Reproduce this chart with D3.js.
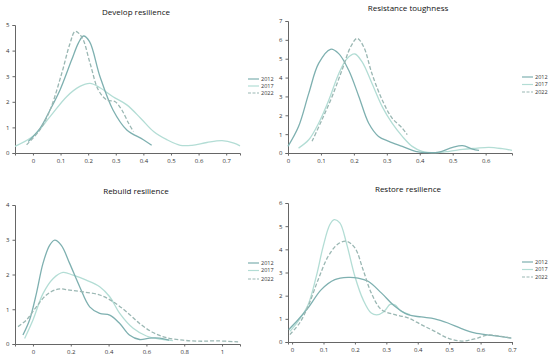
<!DOCTYPE html>
<html>
<head>
<meta charset="utf-8">
<script src="https://cdn.jsdelivr.net/npm/d3@7"></script>
<style>
  body { margin: 0; background: #fff; }
  svg { display: block; font-family: "Open Sans", "Noto Sans", sans-serif; }
</style>
</head>
<body>
<script>
// series years and colours
var years = ["2012", "2017", "2022"];
var colors = ["#7eb0b0", "#b3ddd5", "#9ab7b3"];
var dashes = [null, null, "4,2"];

var titles = ["Develop resilience", "Resistance toughness", "Rebuild resilience", "Restore resilience"];

// density values, [x, density]
var develop2012 = [[-0.017,0.45],[0.025,0.95],[0.062,1.68],[0.098,2.46],[0.14,3.63],[0.165,4.3],[0.183,4.57],[0.205,4.35],[0.243,2.98],[0.29,1.68],[0.34,0.9],[0.40,0.52],[0.43,0.3]];
var develop2017 = [[-0.065,0.26],[0,0.65],[0.062,1.42],[0.122,2.2],[0.17,2.6],[0.207,2.72],[0.243,2.55],[0.29,2.2],[0.34,1.88],[0.39,1.36],[0.437,0.84],[0.485,0.52],[0.534,0.3],[0.576,0.3],[0.63,0.41],[0.685,0.48],[0.728,0.39],[0.75,0.28]];
var develop2022 = [[-0.023,0.32],[0.025,0.9],[0.062,1.68],[0.104,3.1],[0.134,4.27],[0.153,4.75],[0.177,4.53],[0.207,3.5],[0.237,2.46],[0.268,2.07],[0.298,2.0],[0.322,1.68],[0.346,1.17],[0.364,0.84]];

var resist2012 = [[0,0.35],[0.032,1.4],[0.063,3.16],[0.093,4.75],[0.129,5.5],[0.154,5.27],[0.184,4.4],[0.215,3.0],[0.245,1.58],[0.275,0.88],[0.306,0.62],[0.347,0.35],[0.387,0.09],[0.428,0.02],[0.458,0.05],[0.5,0.3],[0.53,0.39],[0.56,0.21],[0.58,0.14]];
var resist2017 = [[0.032,0.26],[0.063,0.7],[0.093,1.58],[0.124,2.81],[0.154,4.2],[0.179,5.0],[0.203,5.25],[0.225,4.83],[0.255,3.69],[0.286,2.46],[0.316,1.58],[0.347,0.88],[0.377,0.35],[0.407,0.09],[0.448,0.02],[0.49,0.09],[0.53,0.19],[0.57,0.25],[0.61,0.3],[0.65,0.23],[0.68,0.14]];
var resist2022 = [[0.073,0.62],[0.103,1.76],[0.134,3.0],[0.164,4.4],[0.19,5.62],[0.21,6.08],[0.23,5.62],[0.255,4.2],[0.286,2.81],[0.316,1.85],[0.347,1.32],[0.362,0.97]];

var rebuild2012 = [[-0.053,0.26],[-0.018,0.69],[0.018,1.45],[0.053,2.32],[0.088,2.84],[0.115,2.99],[0.15,2.84],[0.194,2.32],[0.247,1.65],[0.3,1.07],[0.353,0.88],[0.406,0.83],[0.459,0.59],[0.51,0.26],[0.564,0.13],[0.617,0.17],[0.67,0.17],[0.72,0.11]];
var rebuild2017 = [[-0.044,0.16],[0,0.69],[0.053,1.45],[0.106,1.88],[0.159,2.06],[0.212,1.98],[0.282,1.84],[0.353,1.65],[0.406,1.36],[0.459,0.88],[0.53,0.45],[0.6,0.23],[0.67,0.14],[0.74,0.1]];
var rebuild2022 = [[-0.079,0.5],[-0.035,0.69],[0.018,1.07],[0.071,1.41],[0.132,1.58],[0.194,1.55],[0.265,1.5],[0.353,1.41],[0.423,1.22],[0.494,0.93],[0.564,0.59],[0.635,0.33],[0.706,0.18],[0.794,0.11],[0.882,0.08],[0.97,0.09],[1.085,0.06]];

var restore2012 = [[-0.011,0.53],[0.019,0.96],[0.051,1.47],[0.093,2.26],[0.136,2.69],[0.178,2.79],[0.21,2.76],[0.242,2.62],[0.284,2.12],[0.327,1.54],[0.369,1.18],[0.411,1.08],[0.454,1.0],[0.496,0.82],[0.539,0.58],[0.581,0.39],[0.634,0.29],[0.698,0.17]];
var restore2017 = [[-0.007,0.46],[0.019,0.89],[0.051,1.61],[0.077,2.83],[0.099,4.13],[0.12,5.06],[0.134,5.28],[0.152,5.14],[0.173,4.27],[0.2,2.83],[0.226,1.83],[0.252,1.25],[0.274,1.18],[0.295,1.35],[0.312,1.62],[0.327,1.6],[0.348,1.32],[0.375,1.18]];
var restore2022 = [[-0.007,0.32],[0.024,0.82],[0.051,1.54],[0.083,2.69],[0.115,3.7],[0.146,4.23],[0.173,4.35],[0.2,4.06],[0.226,3.12],[0.252,2.12],[0.284,1.4],[0.327,1.18],[0.369,1.04],[0.411,0.75],[0.454,0.46],[0.496,0.17],[0.539,0.04],[0.581,0.13],[0.623,0.3],[0.666,0.24],[0.698,0.17]];

// tick labels
var developTicksX = [0, 0.1, 0.2, 0.3, 0.4, 0.5, 0.6, 0.7];
var developTicksY = [0, 1, 2, 3, 4, 5];
var resistTicksX = [0, 0.1, 0.2, 0.3, 0.4, 0.5, 0.6];
var resistTicksY = [0, 1, 2, 3, 4, 5, 6, 7];
var rebuildTicksX = [0, 0.2, 0.4, 0.6, 0.8, 1];
var rebuildTicksY = [0, 1, 2, 3, 4];
var restoreTicksX = [0, 0.1, 0.2, 0.3, 0.4, 0.5, 0.6, 0.7];
var restoreTicksY = [0, 1, 2, 3, 4, 5, 6];

var width = 550, height = 359;

var svg = d3.select("body").append("svg")
    .attr("width", width)
    .attr("height", height);

var panels = [
    { title: titles[0], series: [develop2012, develop2017, develop2022], xd: [-0.065, 0.75], yd: [0, 5],
      xr: [15, 240], yr: [153, 25], xt: developTicksX, yt: developTicksY, tx: 136, ty: 15, lx: 248, ly: [79, 86, 93] },
    { title: titles[1], series: [resist2012, resist2017, resist2022], xd: [0, 0.68], yd: [0, 7],
      xr: [288, 512], yr: [153, 21], xt: resistTicksX, yt: resistTicksY, tx: 408, ty: 11, lx: 522, ly: [77, 84.5, 92] },
    { title: titles[2], series: [rebuild2012, rebuild2017, rebuild2022], xd: [-0.095, 1.095], yd: [0, 4],
      xr: [15, 240], yr: [344, 205], xt: rebuildTicksX, yt: rebuildTicksY, tx: 136, ty: 194, lx: 248, ly: [263, 270.5, 279] },
    { title: titles[3], series: [restore2012, restore2017, restore2022], xd: [-0.013, 0.7], yd: [0, 6],
      xr: [288, 512], yr: [342, 203], xt: restoreTicksX, yt: restoreTicksY, tx: 408, ty: 192, lx: 522, ly: [262, 269.5, 277] }
];

panels.forEach(function (p) {
    var x = d3.scaleLinear().domain(p.xd).range(p.xr);
    var y = d3.scaleLinear().domain(p.yd).range(p.yr);
    var g = svg.append("g");

    g.append("text")
        .attr("x", p.tx)
        .attr("y", p.ty)
        .attr("text-anchor", "middle")
        .style("font-size", "8px")
        .style("fill", "#111")
        .text(p.title);

    var xAxis = g.append("g")
        .attr("transform", "translate(0," + p.yr[0] + ")")
        .call(d3.axisBottom(x).tickValues(p.xt).tickSizeOuter(0).tickSize(2.5).tickPadding(3)
            .tickFormat(function (d) { return String(d); }));
    var yAxis = g.append("g")
        .attr("transform", "translate(" + p.xr[0] + ",0)")
        .call(d3.axisLeft(y).tickValues(p.yt).tickSizeOuter(0).tickSize(2.5).tickPadding(3)
            .tickFormat(d3.format("d")));

    [xAxis, yAxis].forEach(function (a) {
        a.select(".domain").attr("stroke", "#666");
        a.selectAll(".tick line").attr("stroke", "#666");
        a.selectAll("text").style("font-size", "6px").style("fill", "#333")
            .style("font-family", "\"Open Sans\", sans-serif");
    });

    var line = d3.line()
        .x(function (d) { return x(d[0]); })
        .y(function (d) { return y(d[1]); })
        .curve(d3.curveCatmullRom.alpha(0.5));

    // draw 2017 first, then 2012, then dashed 2022 on top
    [1, 0, 2].forEach(function (i) {
        g.append("path")
            .datum(p.series[i])
            .attr("d", line)
            .attr("fill", "none")
            .attr("stroke", colors[i])
            .attr("stroke-width", 1.3)
            .attr("stroke-dasharray", dashes[i]);
    });

    // legend
    years.forEach(function (yr, i) {
        g.append("line")
            .attr("x1", p.lx).attr("x2", p.lx + 11)
            .attr("y1", p.ly[i]).attr("y2", p.ly[i])
            .attr("stroke", colors[i])
            .attr("stroke-width", 1.2)
            .attr("stroke-dasharray", dashes[i] ? "3,1.5" : null);
        g.append("text")
            .attr("x", p.lx + 13)
            .attr("y", p.ly[i])
            .attr("dy", "0.35em")
            .style("font-size", "5.5px")
            .style("fill", "#333")
            .text(yr);
    });
});
</script>
</body>
</html>
